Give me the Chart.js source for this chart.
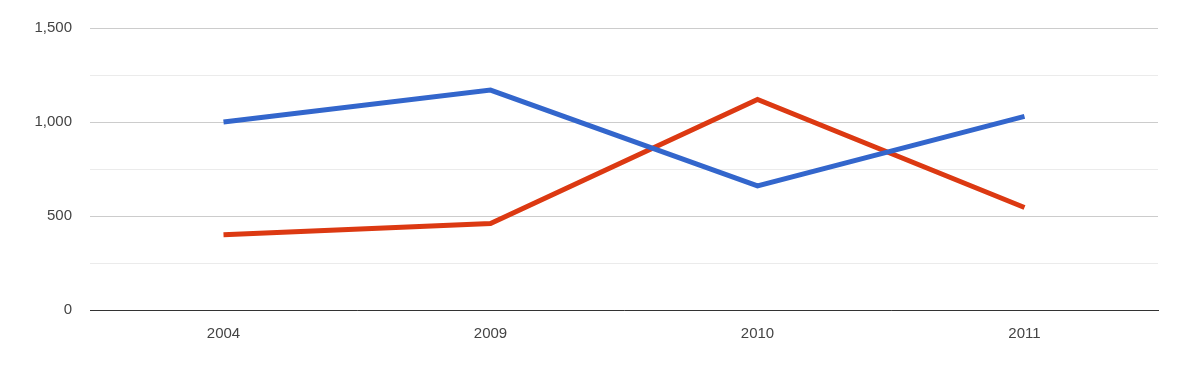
<!DOCTYPE html>
<html>
<head>
<meta charset="utf-8">
<script src="https://cdn.jsdelivr.net/npm/chart.js@4/dist/chart.umd.min.js"></script>
<style>
  html, body { margin: 0; padding: 0; background: #fff; }
  #wrap { width: 1200px; height: 373px; }
</style>
</head>
<body>
<div id="wrap"><canvas id="lineChart" width="1200" height="373"></canvas></div>
<script>
const years = ['2004', '2009', '2010', '2011'];
const blueValues = [1000, 1170, 660, 1030];
const redValues = [400, 460, 1120, 545];
const yTicks = [0, 500, 1000, 1500];

const ctx = document.getElementById('lineChart').getContext('2d');
new Chart(ctx, {
    type: 'line',
    data: {
        labels: years,
        datasets: [{
            label: 'Series 1',
            data: blueValues,
            borderColor: '#3366cc',
            borderWidth: 5,
            pointRadius: 0,
            tension: 0
        }, {
            label: 'Series 2',
            data: redValues,
            borderColor: '#dc3912',
            borderWidth: 5,
            pointRadius: 0,
            tension: 0
        }]
    },
    options: {
        responsive: false,
        animation: false,
        layout: { padding: { top: 28, right: 42, bottom: 0, left: 0 } },
        plugins: {
            legend: { display: false },
            tooltip: { enabled: false }
        },
        scales: {
            x: {
                offset: true,
                grid: { display: false, drawTicks: false },
                border: { color: '#333333', width: 1 },
                ticks: {
                    color: '#444444',
                    padding: 15,
                    font: { family: 'Liberation Sans, Arial', size: 15 }
                },
                afterFit: axis => { axis.height = 63; }
            },
            y: {
                min: 0,
                max: 1500,
                grid: {
                    drawTicks: false,
                    color: c => (c.tick.value % 500 === 0 ? '#cccccc' : '#ebebeb')
                },
                border: { display: false },
                ticks: {
                    stepSize: 250,
                    color: '#444444',
                    padding: 18,
                    font: { family: 'Liberation Sans, Arial', size: 15 },
                    callback: v => (yTicks.includes(v) ? v.toLocaleString('en-US') : '')
                },
                afterFit: axis => { axis.width = 90; }
            }
        }
    }
});
</script>
</body>
</html>
